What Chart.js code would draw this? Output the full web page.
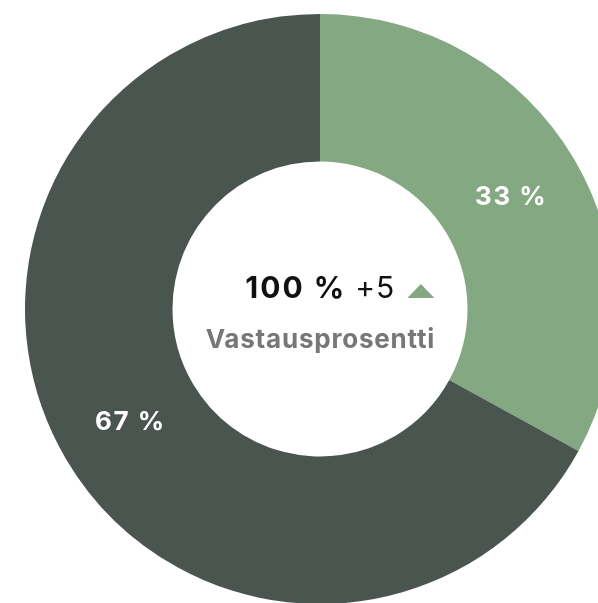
<!DOCTYPE html>
<html>
<head>
<meta charset="utf-8">
<script src="https://cdn.jsdelivr.net/npm/chart.js@4"></script>
<style>
  html, body { margin: 0; padding: 0; background: #fff; overflow: hidden; width: 598px; height: 603px; }
  #wrap { position: absolute; left: 25px; top: 14px; width: 590px; height: 590px; }
</style>
</head>
<body>
<div id="wrap"><canvas id="MiGrafica"></canvas></div>
<script>
// data
const etiquetas = ["Vastanneet", "Ei vastanneet"];
const valores = [33, 67];
const colores = ["#84A882", "#4A5550"];
const tituloValor = "100 %";
const tituloCambio = "+5";
const subtitulo = "Vastausprosentti";

const fuente = "Inter, 'Noto Sans', sans-serif";

// labels on each slice
const etiquetasPlugin = {
  id: "etiquetasPorcentaje",
  afterDatasetsDraw(chart) {
    const ctx = chart.ctx;
    const meta = chart.getDatasetMeta(0);
    ctx.save();
    ctx.fillStyle = "#ffffff";
    ctx.font = "bold 26px " + fuente;
    ctx.letterSpacing = "1.5px";
    ctx.textAlign = "left";
    ctx.textBaseline = "middle";
    meta.data.forEach((arco, i) => {
      const pos = arco.tooltipPosition();
      const txt = valores[i] + " %";
      const w = ctx.measureText(txt).width - 1.5;
      ctx.fillText(txt, pos.x - w / 2, pos.y + 1);
    });
    ctx.restore();
  }
};

// text in the hole
const centroPlugin = {
  id: "textoCentro",
  afterDraw(chart) {
    const ctx = chart.ctx;
    const arco = chart.getDatasetMeta(0).data[0];
    const cx = arco.x, cy = arco.y;
    ctx.save();
    ctx.textBaseline = "alphabetic";
    ctx.textAlign = "left";

    ctx.font = "bold 26px " + fuente;
    ctx.letterSpacing = "0.8px";
    const anchoSub = ctx.measureText(subtitulo).width - 0.8;
    const izq = cx - anchoSub / 2;
    const derecha = cx + anchoSub / 2;
    ctx.fillStyle = "#777777";
    ctx.fillText(subtitulo, izq, cy + 39);

    // first line, right aligned to the subtitle
    const yLinea = cy - 11;
    const triW = 27, triH = 14;
    ctx.font = "bold 30px " + fuente;
    ctx.letterSpacing = "2px";
    const w1 = ctx.measureText(tituloValor).width - 2;
    ctx.font = "400 30px " + fuente;
    ctx.letterSpacing = "1px";
    const w2 = ctx.measureText(tituloCambio).width - 1;
    const g1 = 11, g2 = 13;
    let x = derecha - (w1 + g1 + w2 + g2 + triW);

    ctx.fillStyle = "#111111";
    ctx.font = "bold 30px " + fuente;
    ctx.letterSpacing = "2px";
    ctx.fillText(tituloValor, x, yLinea);
    x += w1 + g1;
    ctx.font = "400 30px " + fuente;
    ctx.letterSpacing = "1px";
    ctx.fillText(tituloCambio, x, yLinea);
    x += w2 + g2;

    ctx.fillStyle = "#84A882";
    ctx.beginPath();
    ctx.moveTo(x, yLinea);
    ctx.lineTo(x + triW, yLinea);
    ctx.lineTo(x + triW / 2, yLinea - triH);
    ctx.closePath();
    ctx.fill();
    ctx.restore();
  }
};

let miCanvas = document.getElementById("MiGrafica").getContext("2d");

var chart = new Chart(miCanvas, {
  type: "doughnut",
  data: {
    labels: etiquetas,
    datasets: [
      {
        data: valores,
        backgroundColor: colores,
        borderWidth: 0,
        hoverOffset: 0
      }
    ]
  },
  options: {
    responsive: true,
    maintainAspectRatio: false,
    animation: false,
    cutout: "50%",
    layout: { padding: 0 },
    plugins: {
      legend: { display: false },
      tooltip: { enabled: false }
    }
  },
  plugins: [etiquetasPlugin, centroPlugin]
});
</script>
</body>
</html>
